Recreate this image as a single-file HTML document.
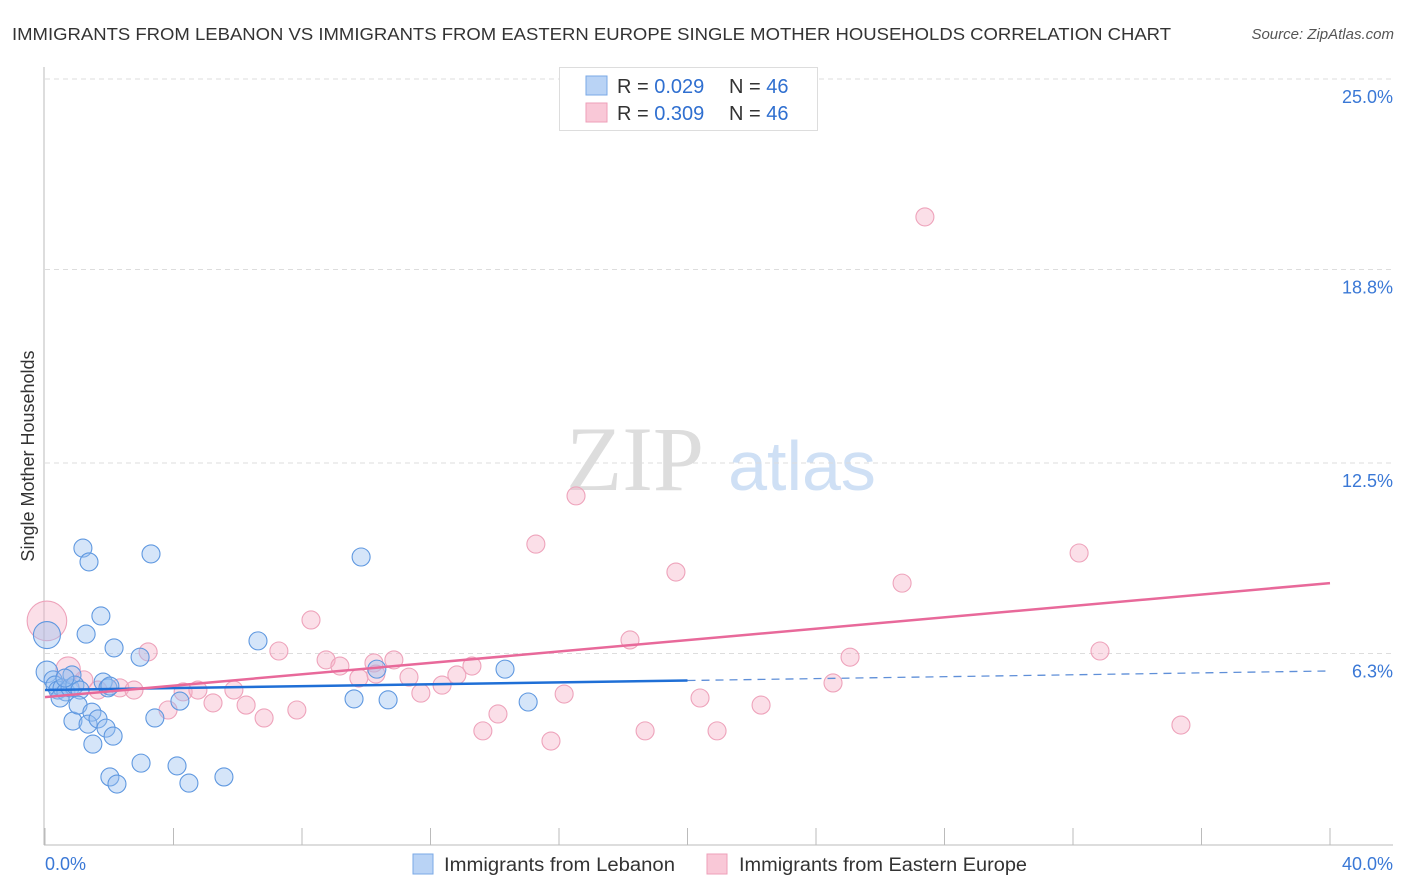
<!DOCTYPE html>
<html><head><meta charset="utf-8">
<style>
body{margin:0;background:#fff;font-family:"Liberation Sans",sans-serif;}
svg{display:block}
</style></head>
<body>
<svg id="chart" width="1406" height="892">
<text x="12" y="40" font-size="17.5" fill="#333" textLength="1159" lengthAdjust="spacingAndGlyphs">IMMIGRANTS FROM LEBANON VS IMMIGRANTS FROM EASTERN EUROPE SINGLE MOTHER HOUSEHOLDS CORRELATION CHART</text>
<text x="1394" y="39" font-size="15" fill="#555" font-style="italic" text-anchor="end">Source: ZipAtlas.com</text>
<text x="34" y="456" font-size="18" fill="#333" text-anchor="middle" transform="rotate(-90 34 456)">Single Mother Households</text>
<g>
<text x="635" y="490" font-size="92" font-family="Liberation Serif,serif" fill="#ddd" text-anchor="middle">ZIP</text>
<text x="802" y="490" font-size="70" fill="#cfe0f5" text-anchor="middle">atlas</text>
</g>
<g id="grid"></g>
<g id="axes"></g>
<g id="marks"></g>
<g>
<rect x="559.5" y="67.5" width="258" height="63" fill="#fff" stroke="#ddd"/>
<rect x="586" y="76" width="21" height="19" fill="#b9d3f5" stroke="#7aa8e6"/>
<rect x="586" y="103" width="21" height="19" fill="#f9c8d7" stroke="#ee9fb8"/>
<text x="617" y="93" font-size="20" fill="#333">R = <tspan fill="#2f6fd0">0.029</tspan></text>
<text x="729" y="93" font-size="20" fill="#333">N = <tspan fill="#2f6fd0">46</tspan></text>
<text x="617" y="120" font-size="20" fill="#333">R = <tspan fill="#2f6fd0">0.309</tspan></text>
<text x="729" y="120" font-size="20" fill="#333">N = <tspan fill="#2f6fd0">46</tspan></text>
</g>
<g>
<rect x="413" y="854" width="20" height="20" fill="#b9d3f5" stroke="#7aa8e6"/>
<text x="444" y="871" font-size="19" fill="#333" textLength="231" lengthAdjust="spacingAndGlyphs">Immigrants from Lebanon</text>
<rect x="707" y="854" width="20" height="20" fill="#f9c8d7" stroke="#ee9fb8"/>
<text x="739" y="871" font-size="19" fill="#333" textLength="288" lengthAdjust="spacingAndGlyphs">Immigrants from Eastern Europe</text>
</g>
</svg>
<script>
const yTicks=[25.0,18.8,12.5,6.3];
const yTickLabels=["25.0%","18.8%","12.5%","6.3%"];
const xTickLabels=["0.0%","40.0%"];
const blueX=[0.06,0.06,0.25,0.31,0.40,0.53,0.65,0.47,0.78,0.84,0.93,1.09,0.87,1.03,1.18,1.37,1.28,1.74,1.46,1.34,1.65,1.90,2.12,1.49,1.81,1.96,2.15,2.96,2.02,2.24,2.99,3.42,3.30,4.11,4.20,4.48,5.57,6.63,9.62,9.84,10.33,10.68,14.32,15.04,2.02,0.62];
const blueY=[6.90,5.70,5.44,5.27,5.11,5.18,5.05,4.85,5.18,5.60,5.27,5.11,4.10,4.62,9.73,9.28,6.93,7.52,4.39,4.00,4.17,3.87,3.61,3.35,5.37,5.18,6.48,6.18,2.28,2.05,2.73,4.20,9.54,2.64,4.75,2.08,2.28,6.71,4.82,9.44,5.79,4.79,5.79,4.72,5.24,5.50];
const blueSize=[1.5,1.2,1,1,1,1,1,1,1,1,1,1,1,1,1,1,1,1,1,1,1,1,1,1,1,1,1,1,1,1,1,1,1,1,1,1,1,1,1,1,1,1,1,1,1,1];
const pinkX=[0.06,0.72,1.21,1.65,2.33,2.77,3.21,3.83,4.30,4.76,5.23,5.88,6.26,6.82,7.28,7.84,8.28,8.75,9.18,9.77,10.24,10.30,10.86,11.33,11.70,12.36,12.82,13.29,13.63,14.10,15.28,15.75,16.16,16.53,18.21,18.68,19.64,20.39,20.92,22.29,24.53,25.06,26.68,27.39,32.19,32.84,35.36];
const pinkY=[7.36,5.79,5.44,5.11,5.18,5.11,6.35,4.46,5.05,5.11,4.69,5.11,4.62,4.20,6.38,4.46,7.39,6.09,5.89,5.50,5.99,5.63,6.09,5.53,5.01,5.27,5.60,5.89,3.78,4.33,9.86,3.45,4.98,11.43,6.74,3.78,8.95,4.85,3.78,4.62,5.34,6.18,8.59,20.51,9.57,6.38,3.97];
const pinkSize=[2.2,1.35,1,1,1,1,1,1,1,1,1,1,1,1,1,1,1,1,1,1,1,1,1,1,1,1,1,1,1,1,1,1,1,1,1,1,1,1,1,1,1,1,1,1,1,1,1];
const blueTrend=[5.11,5.73]; // at x=0 and x=40
const blueSolidEnd=20;
const pinkTrend=[4.88,8.59];

const NS="http://www.w3.org/2000/svg";
const xs=v=>45+v*32.125;
const ys=v=>847-v*30.72;
function mk(tag,attrs,parent){const e=document.createElementNS(NS,tag);for(const k in attrs)e.setAttribute(k,attrs[k]);parent.appendChild(e);return e;}
const grid=document.getElementById('grid'),axes=document.getElementById('axes'),marks=document.getElementById('marks');
yTicks.forEach((t,i)=>{
 const l=mk('line',{x1:45,x2:1393,y1:ys(t),y2:ys(t),stroke:'#ddd','stroke-dasharray':'5,4'},grid);
 
 
 const tx=mk('text',{x:1393,y:ys(t)+24,'font-size':18,fill:'#3a78d6','text-anchor':'end'},axes);
 tx.textContent=yTickLabels[i];
 
 
});
const ax=mk('line',{x1:44,x2:44,y1:67,y2:845,stroke:'#bbb'},axes);


const bx=mk('line',{x1:44,x2:1393,y1:845,y2:845,stroke:'#bbb'},axes);


for(let i=0;i<=10;i++){
 const t=mk('line',{x1:xs(i*4),x2:xs(i*4),y1:828,y2:845,stroke:'#bbb'},axes);
 
 
}
[[0,'start',45],[40,'end',1393]].forEach((d,i)=>{
 const t=mk('text',{x:d[2],y:870,'font-size':18,fill:'#3a78d6','text-anchor':d[1]},axes);
 t.textContent=xTickLabels[i];
 
 
});
function dots(X,Y,S,fill,stroke,name){
 X.forEach((x,i)=>{
  const c=mk('circle',{cx:xs(x),cy:ys(Y[i]),r:9*S[i],fill:fill,stroke:stroke,'stroke-width':1.1},marks);
  
  
 });
}
dots(pinkX,pinkY,pinkSize,'rgba(245,175,198,0.4)','#eea3bb','point-eastern-europe');
dots(blueX,blueY,blueSize,'rgba(150,190,240,0.4)','#5f98e0','point-lebanon');
const by=x=>blueTrend[0]+(blueTrend[1]-blueTrend[0])*x/40;
const bl=mk('line',{x1:xs(0),y1:ys(by(0)),x2:xs(blueSolidEnd),y2:ys(by(blueSolidEnd)),stroke:'#1f6fd6','stroke-width':2.5},marks);


const bd=mk('line',{x1:xs(blueSolidEnd),y1:ys(by(blueSolidEnd)),x2:xs(40),y2:ys(by(40)),stroke:'#5f8fd8','stroke-width':1.3,'stroke-dasharray':'8,6'},marks);


const pl=mk('line',{x1:xs(0),y1:ys(pinkTrend[0]),x2:xs(40),y2:ys(pinkTrend[1]),stroke:'#e8699a','stroke-width':2.5},marks);


</script>
</body></html>
